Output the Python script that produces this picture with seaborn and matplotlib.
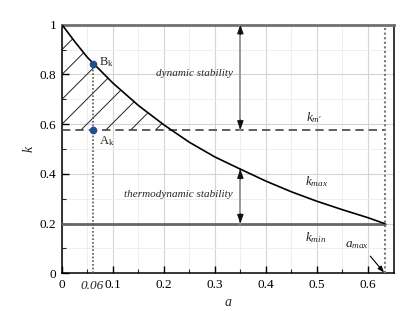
import numpy as np
import pandas as pd
import matplotlib
matplotlib.use("Agg")
import matplotlib.pyplot as plt
import seaborn as sns

# ---- data ----
a_vals = [0.0, 0.025, 0.05, 0.1, 0.15, 0.2, 0.25, 0.3, 0.35, 0.4, 0.45, 0.5, 0.55, 0.6, 0.633]
k_max_vals = [1.0, 0.932, 0.868, 0.765, 0.675, 0.597, 0.527, 0.468, 0.419, 0.371, 0.328, 0.29, 0.256, 0.224, 0.2]
k_m = 0.577
k_min = 0.2
a_max = 0.633
a_pt = 0.06
k_A = 0.577
k_B = 0.843
x_ticks = [0, 0.1, 0.2, 0.3, 0.4, 0.5, 0.6]
x_tick_labels = ["0", "0.1", "0.2", "0.3", "0.4", "0.5", "0.6"]
y_ticks = [0, 0.2, 0.4, 0.6, 0.8, 1.0]
y_tick_labels = ["0", "0.2", "0.4", "0.6", "0.8", "1"]
hatch_offsets = [0.2, 0.3, 0.4, 0.5, 0.6, 0.7, 0.8, 0.9]

df = pd.DataFrame({"a": a_vals, "k": k_max_vals})

sns.set_theme(style="white")
plt.rcParams["font.family"] = ["Liberation Serif", "DejaVu Serif"]
plt.rcParams["mathtext.fontset"] = "custom"
plt.rcParams["mathtext.rm"] = "Liberation Serif"
plt.rcParams["mathtext.it"] = "Liberation Serif:italic"

fig = plt.figure(figsize=(4.15, 3.11), dpi=100)
ax = fig.add_axes([0.1494, 0.1212, 0.8006, 0.7994])
ax.set_xlim(0, 0.652)
ax.set_ylim(0, 1.0)

# grid
ax.set_xticks(x_ticks)
ax.set_yticks(y_ticks)
ax.set_xticks([0.05, 0.15, 0.25, 0.35, 0.45, 0.55], minor=True)
ax.set_yticks([0.1, 0.3, 0.5, 0.7, 0.9], minor=True)
ax.grid(True, which="major", color="#d4d4d4", lw=0.8)
ax.grid(True, which="minor", color="#ececec", lw=0.6)
ax.set_axisbelow(True)

# hatched region between curve and k_m'
a_arr = np.array(a_vals)
k_arr = np.array(k_max_vals)
fill = ax.fill_between(a_arr, k_m, k_arr, where=k_arr >= k_m - 0.03, interpolate=True,
                       facecolor="none", edgecolor="none")
xx = np.array([0.0, 0.4])
for c in hatch_offsets:
    ln, = ax.plot(xx, c + 2.05 * xx, color="#222222", lw=0.7, zorder=2)
    ln.set_clip_path(fill.get_paths()[0], ax.transData)

# curve k_max
sns.lineplot(data=df, x="a", y="k", ax=ax, color="black", lw=1.2, zorder=4)

# k_m' dashed, k_min solid
ax.plot([0, a_max], [k_m, k_m], color="#444444", lw=1.2, ls=(0, (5, 3)), zorder=3)
ax.plot([0, a_max], [k_min, k_min], color="#666666", lw=2.0, zorder=3)

# dotted verticals
ax.plot([a_pt, a_pt], [0, k_B], color="#555555", lw=1.2, ls=(0, (1, 1.2)), zorder=3)
ax.plot([a_max, a_max], [0, 1.0], color="#777777", lw=1.5, ls=(0, (1, 1.2)), zorder=3)

# points
ax.plot([a_pt, a_pt], [k_A, k_B], ls="none", marker="o", ms=4.5, color="#1f4f8f", zorder=5)
ax.text(a_pt + 0.012, k_B + 0.008, r"B$_\mathregular{k}$", fontsize=9, va="center")
ax.text(a_pt + 0.012, k_A - 0.045, r"A$_\mathregular{k}$", fontsize=9, va="center")

# stability arrows
for y0, y1 in [(k_m, 1.0), (k_min, 0.419)]:
    ax.plot([0.35, 0.35], [y0, y1], color="#999999", lw=1.4, zorder=3)
    ax.annotate("", xy=(0.35, y1), xytext=(0.35, y1 - 0.04),
                arrowprops=dict(arrowstyle="-|>,head_length=0.45,head_width=0.16",
                                color="#111111", lw=0.8, shrinkA=0, shrinkB=0), zorder=4)
    ax.annotate("", xy=(0.35, y0), xytext=(0.35, y0 + 0.04),
                arrowprops=dict(arrowstyle="-|>,head_length=0.45,head_width=0.16",
                                color="#111111", lw=0.8, shrinkA=0, shrinkB=0), zorder=4)

ax.text(0.335, 0.805, "dynamic stability", fontsize=8, style="italic", ha="right", va="center")
ax.text(0.335, 0.315, "thermodynamic stability", fontsize=8, style="italic", ha="right", va="center")

# curve labels
ax.text(0.478, 0.625, r"$k_{m\prime}$", fontsize=9.5, ha="left", va="center")
ax.text(0.476, 0.37, r"$k_{max}$", fontsize=9.5, ha="left", va="center")
ax.text(0.476, 0.145, r"$k_{min}$", fontsize=9.5, ha="left", va="center")
ax.annotate(r"$a_{max}$", xy=(0.632, 0.003), xytext=(0.556, 0.115), fontsize=9.5,
            ha="left", va="center",
            arrowprops=dict(arrowstyle="-|>,head_length=0.4,head_width=0.15",
                            color="black", lw=0.8, shrinkA=2, shrinkB=0,
                            relpos=(0.85, 0.0)))

# ticks & labels
ax.set_xticklabels(x_tick_labels)
ax.set_yticklabels(y_tick_labels)
ax.tick_params(axis="both", which="major", direction="in", length=5, width=1.0,
               labelsize=9.5, colors="black", top=False, right=False, pad=4)
ax.tick_params(axis="both", which="minor", direction="in", length=3, width=0.8,
               top=False, right=False)
ax.tick_params(axis="both", which="both", bottom=True, left=True)
ax.text(a_pt, -0.025, "0.06", fontsize=9.5, style="italic", ha="center", va="top",
        transform=ax.transData)

ax.set_xlabel("a", fontsize=10, style="italic", labelpad=4)
ax.set_ylabel("k", fontsize=10, style="italic", labelpad=3)

for side in ["left", "bottom", "right"]:
    ax.spines[side].set_color("black")
    ax.spines[side].set_linewidth(1.1)
ax.spines["top"].set_color("#707070")
ax.spines["top"].set_linewidth(2.0)

fig.savefig("out.png", dpi=100)
